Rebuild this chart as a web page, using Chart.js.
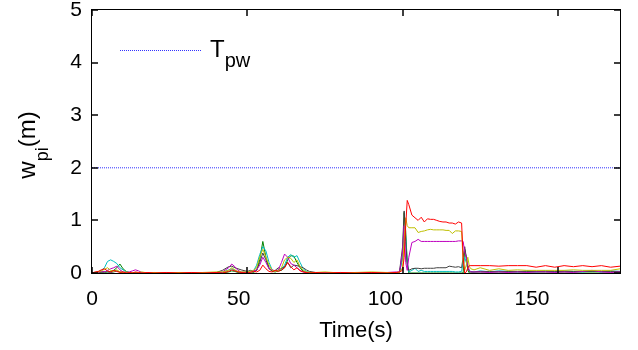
<!DOCTYPE html>
<html>
<head>
<meta charset="utf-8">
<script src="https://cdn.jsdelivr.net/npm/chart.js@4.4.1/dist/chart.umd.min.js"></script>
<style>
  html, body { margin: 0; padding: 0; background: #fff; overflow: hidden; }
  #wrap { width: 638px; height: 350px; }
</style>
</head>
<body>
<div id="wrap"><canvas id="c" width="638" height="350"></canvas></div>
<script>
// Sample times (s)
const timeS = [
  0,1,2,3,4,5,6,7,8,9,10,11,12,13,14,15,16,18,20,24,28,32,36,40,
  42,44,45,46,47,48,50,51,52,53,54,55,56,57,58,59,60,61,62,63,64,65,66,67,68,69,70,
  72,75,80,85,90,95,98,99,
  100,100.5,101,101.5,102,103,104,105,106,107,108,109,110,111,112,113,114,115,116,117,118,119,
  119.5,120,120.5,121,121.5,122,123,125,128,131,134,137,140,143,146,149,152,155,158,161,164,167,170
];

// w_pi (m) for each platoon member
const wRed = [
  0,0.02,0.03,0.06,0.08,0.04,0.02,0.05,0.03,0.01,0.02,0,0.01,0,0.02,0.01,0,0.01,0,0.01,0,0.01,0,0.01,
  0,0.03,0.06,0.04,0.02,0.01,0,0.01,0.03,0.02,0.05,0.15,0.08,0.03,0.02,0.05,0.03,0.06,0.1,0.2,0.12,0.06,0.1,0.04,0.02,0.01,0,
  0.01,0,0.01,0,0.01,0,0.01,0.02,
  0.05,0.3,0.9,1.38,1.3,1.1,1.05,1.0,1.06,0.97,1.03,1.02,1.02,1.0,0.98,0.97,0.97,0.95,0.95,0.93,0.97,0.95,
  0.3,0,0.02,0.1,0.14,0.14,0.14,0.14,0.14,0.13,0.14,0.14,0.14,0.11,0.14,0.11,0.14,0.12,0.14,0.12,0.14,0.11,0.13
];
const wOlive = [
  0,0.01,0.02,0.04,0.07,0.1,0.05,0.03,0.06,0.02,0.01,0.02,0,0.01,0,0.01,0.02,0,0.01,0,0.01,0,0.01,0.02,
  0.02,0.05,0.1,0.06,0.03,0.02,0.02,0.03,0.05,0.1,0.3,0.45,0.3,0.15,0.05,0.03,0.05,0.1,0.25,0.3,0.28,0.2,0.25,0.12,0.05,0.02,0.01,
  0.01,0.02,0,0.01,0.02,0.01,0,0.01,
  0.1,0.6,1.05,0.9,0.86,0.86,0.86,0.77,0.79,0.8,0.82,0.83,0.82,0.82,0.82,0.82,0.81,0.81,0.75,0.8,0.8,0.79,
  0.2,0.05,0.15,0.3,0.12,0.08,0.06,0.1,0.05,0.08,0.05,0.06,0.05,0.05,0.05,0.05,0.05,0.06,0.05,0.05,0.05,0.05,0.08
];
const wMagenta = [
  0,0,0.01,0.03,0.02,0.05,0.08,0.1,0.13,0.06,0.02,0.01,0.02,0.04,0.06,0.04,0.01,0,0.01,0,0.01,0,0.01,0,
  0.02,0.1,0.17,0.12,0.05,0.02,0.01,0.02,0.04,0.06,0.15,0.3,0.2,0.08,0.06,0.04,0.06,0.2,0.36,0.3,0.18,0.15,0.1,0.05,0.02,0.01,0,
  0,0.01,0,0.01,0,0.01,0.02,0.01,
  0.4,0.9,0.2,0.05,0.3,0.58,0.6,0.64,0.6,0.6,0.6,0.6,0.6,0.6,0.6,0.6,0.6,0.6,0.6,0.6,0.61,0.61,
  0.6,0.4,0.3,0.15,0.05,0.02,0.02,0.02,0.01,0.02,0.01,0.02,0.01,0.02,0.02,0.01,0.02,0.01,0.03,0.05,0.02,0.01,0.02
];
const wGray = [
  0.01,0,0.02,0.01,0.03,0.02,0.01,0.02,0.04,0.02,0.01,0,0.01,0,0.01,0,0.01,0,0.01,0,0.01,0,0.01,0.01,
  0.05,0.12,0.13,0.1,0.08,0.06,0.03,0.05,0.03,0.05,0.2,0.38,0.25,0.08,0.04,0.05,0.1,0.08,0.12,0.2,0.1,0.15,0.14,0.12,0.1,0.06,0.03,
  0.01,0,0.01,0,0.01,0,0.01,0.02,
  0.5,1.18,0.6,0.15,0.05,0.08,0.09,0.09,0.08,0.09,0.09,0.09,0.09,0.1,0.1,0.1,0.1,0.13,0.12,0.11,0.12,0.1,
  0.3,0.5,0.3,0.1,0.03,0.02,0.02,0.03,0.03,0.03,0.03,0.03,0.03,0.03,0.03,0.03,0.03,0.03,0.03,0.03,0.03,0.03,0.03
];
const wCyan = [
  0,0.01,0.02,0.05,0.1,0.22,0.25,0.22,0.18,0.1,0.06,0.02,0.01,0,0.01,0,0.01,0,0.01,0,0.01,0,0.01,0,
  0.01,0.06,0.08,0.05,0.02,0.01,0.02,0.02,0.04,0.15,0.35,0.5,0.42,0.2,0.06,0.03,0.05,0.08,0.15,0.3,0.35,0.3,0.33,0.2,0.08,0.03,0.01,
  0,0.01,0,0.01,0,0.01,0,0.01,
  0.3,0.9,0.7,0.2,0.02,0.05,0.09,0.03,0.05,0.03,0.03,0.03,0.03,0.03,0.03,0.03,0.03,0.03,0.03,0.02,0.02,0.03,
  0.2,0.3,0.2,0.08,0.04,0.03,0.02,0.04,0.02,0.04,0.03,0.02,0.04,0.02,0.04,0.02,0.04,0.03,0.02,0.04,0.02,0.04,0.03
];
const wGreen = [
  0,0,0.01,0.02,0.01,0.02,0.03,0.05,0.1,0.17,0.08,0.03,0.01,0,0.01,0,0,0.01,0,0,0.01,0,0,0.01,
  0,0.02,0.04,0.03,0.01,0,0.01,0.03,0.01,0.05,0.25,0.6,0.3,0.1,0.03,0.02,0.04,0.05,0.1,0.25,0.33,0.32,0.2,0.1,0.03,0.01,0,
  0,0,0,0,0,0,0,0.01,
  0.3,1.15,0.8,0.2,0,0,0,0,0,0,0,0,0,0,0,0,0,0,0,0,0,0,
  0,0.45,0.3,0.05,0,0,0,0,0,0,0,0,0,0,0,0,0,0,0,0,0,0,0
];

// Threshold T_pw (m)
const thresholdPw = 2;

// Axis ticks
const xTickValues = [0, 50, 100, 150];
const xTickLabels = [0, 50, 100, 150];
const yTickValues = [0, 1, 2, 3, 4, 5];

const FONT = "'Liberation Sans', Arial, Helvetica, sans-serif";
const TICK_LEN = 6;

const toPoints = vals => timeS.map((t, i) => ({ x: t, y: vals[i] }));
const series = [
  { data: wRed, color: '#ff0000' },
  { data: wOlive, color: '#bfbf00' },
  { data: wMagenta, color: '#bf00bf' },
  { data: wGray, color: '#404040' },
  { data: wCyan, color: '#00bfbf' },
  { data: wGreen, color: '#008000' }
];

const datasets = series.map(s => ({
  data: toPoints(s.data),
  borderColor: s.color,
  borderWidth: 1,
  pointRadius: 0,
  tension: 0,
  fill: false
}));
datasets.push({
  data: [{ x: 0, y: thresholdPw }, { x: 170, y: thresholdPw }],
  borderColor: '#3333ff',
  borderWidth: 1,
  borderDash: [1, 1],
  pointRadius: 0,
  fill: false
});

// Box, inward ticks, legend and y title with subscript
const framePlugin = {
  id: 'frame',
  afterDatasetsDraw(chart) {
    const { ctx, chartArea: a, scales } = chart;
    const xs = scales.x, ys = scales.y;
    ctx.save();
    ctx.strokeStyle = '#000';
    ctx.lineWidth = 1;
    ctx.strokeRect(a.left - 0.5, a.top - 0.5, a.right - a.left + 1, a.bottom - a.top + 1);
    ctx.lineWidth = 1.5;
    ctx.beginPath();
    xTickValues.forEach(v => {
      const px = Math.round(xs.getPixelForValue(v));
      ctx.moveTo(px, a.bottom); ctx.lineTo(px, a.bottom - TICK_LEN);
      ctx.moveTo(px, a.top); ctx.lineTo(px, a.top + TICK_LEN);
    });
    yTickValues.forEach(v => {
      const py = Math.round(ys.getPixelForValue(v));
      ctx.moveTo(a.left, py); ctx.lineTo(a.left + TICK_LEN, py);
      ctx.moveTo(a.right, py); ctx.lineTo(a.right - TICK_LEN, py);
    });
    ctx.stroke();

    // Legend entry for the threshold
    const ly = 50;
    ctx.strokeStyle = '#3333ff';
    ctx.lineWidth = 1;
    ctx.setLineDash([1, 1]);
    ctx.beginPath();
    ctx.moveTo(120, ly + 0.5); ctx.lineTo(201, ly + 0.5);
    ctx.stroke();
    ctx.setLineDash([]);
    ctx.fillStyle = '#000';
    ctx.textBaseline = 'alphabetic';
    ctx.textAlign = 'left';
    ctx.font = '24px ' + FONT;
    ctx.fillText('T', 210, 57);
    const tW = ctx.measureText('T').width;
    ctx.font = '20px ' + FONT;
    ctx.fillText('pw', 210 + tW, 67);
    ctx.restore();
  },
  afterDraw(chart) {
    const { ctx } = chart;
    ctx.save();
    ctx.fillStyle = '#000';
    ctx.textBaseline = 'alphabetic';
    ctx.textAlign = 'left';
    const main = '24px ' + FONT, sub = '18px ' + FONT;
    ctx.font = main; const w1 = ctx.measureText('w').width; const w3 = ctx.measureText('(m)').width;
    ctx.font = sub; const w2 = ctx.measureText('pi').width;
    const total = w1 + w2 + w3;
    ctx.translate(35, 145);
    ctx.rotate(-Math.PI / 2);
    let x0 = -total / 2;
    ctx.font = main; ctx.fillText('w', x0, 0);
    ctx.font = sub; ctx.fillText('pi', x0 + w1, 13);
    ctx.font = main; ctx.fillText('(m)', x0 + w1 + w2, 0);
    ctx.restore();
  }
};

new Chart(document.getElementById('c'), {
  type: 'line',
  data: { datasets },
  options: {
    responsive: false,
    animation: false,
    events: [],
    layout: { padding: { left: 0, right: 18, top: 10, bottom: 0 } },
    plugins: { legend: { display: false }, tooltip: { enabled: false } },
    scales: {
      x: { type: 'linear', min: 0, max: 170, display: false },
      xText: {
        type: 'linear', position: 'bottom', min: 0, max: 180,
        afterBuildTicks(s) { s.ticks = xTickLabels.map(v => ({ value: v })); },
        grid: { display: false, drawTicks: false },
        border: { display: false },
        ticks: { color: '#000', font: { family: FONT, size: 21 }, padding: 14, maxRotation: 0, autoSkip: false },
        title: { display: true, text: 'Time(s)', color: '#000', font: { family: FONT, size: 22 }, padding: { top: 0, bottom: 6 } },
        afterFit(s) { s.height = 77; s.paddingLeft = 0; s.paddingRight = 0; }
      },
      y: {
        type: 'linear', min: 0, max: 5,
        afterBuildTicks(s) { s.ticks = yTickValues.map(v => ({ value: v })); },
        grid: { display: false, drawTicks: false },
        border: { display: false },
        ticks: { color: '#000', font: { family: FONT, size: 21 }, padding: 10 },
        afterFit(s) { s.width = 92; s.paddingTop = 0; s.paddingBottom = 0; }
      }
    }
  },
  plugins: [framePlugin]
});
</script>
</body>
</html>
